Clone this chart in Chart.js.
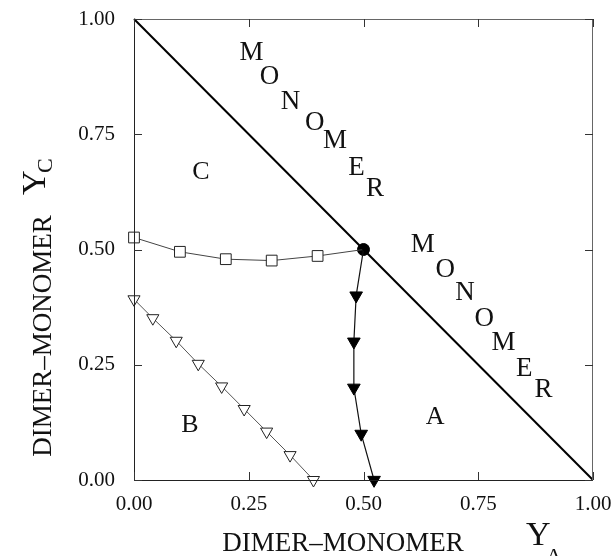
<!DOCTYPE html>
<html>
<head>
<meta charset="utf-8">
<script src="https://cdn.jsdelivr.net/npm/chart.js@4/dist/chart.umd.min.js"></script>
<style>
  html, body { margin: 0; padding: 0; background: #ffffff; }
  canvas { display: block; }
</style>
</head>
<body>
<canvas id="phase" width="613" height="556"></canvas>
<script>
// Axis tick labels (same for both composition axes)
const tickValues = [0, 0.25, 0.5, 0.75, 1];
const tickLabels = ['0.00', '0.25', '0.50', '0.75', '1.00'];

// Boundary Y_A + Y_C = 1 (pure monomer limit)
const limitX = [0, 1];
const limitY = [1, 0];

// Boundary between phase C and phase A/B region (open squares)
const boundaryCX = [0, 0.1, 0.2, 0.3, 0.4, 0.5];
const boundaryCY = [0.526, 0.495, 0.479, 0.476, 0.486, 0.5];

// Boundary of phase B (open triangles)
const boundaryBX = [0, 0.041, 0.092, 0.140, 0.191, 0.240, 0.289, 0.340, 0.391];
const boundaryBY = [0.392, 0.351, 0.302, 0.252, 0.203, 0.154, 0.105, 0.054, 0.0];

// Boundary of phase A (filled triangles), starting at the triple point
const boundaryAX = [0.5, 0.484, 0.479, 0.479, 0.495, 0.523];
const boundaryAY = [0.5, 0.400, 0.300, 0.200, 0.100, 0.0];

// Triple point
const tripleX = [0.5];
const tripleY = [0.5];

const pairs = (xs, ys) => xs.map((x, i) => ({ x: x, y: ys[i] }));

const SERIF = '"Liberation Serif", "DejaVu Serif", serif';

// Labels placed in data coordinates
const regionNames = [
  { text: 'C', x: 0.146, y: 0.668 },
  { text: 'B', x: 0.122, y: 0.119 },
  { text: 'A', x: 0.656, y: 0.137 }
];
const upperWord = [
  ['M', 0.256, 0.926], ['O', 0.295, 0.874], ['N', 0.341, 0.821], ['O', 0.394, 0.774],
  ['M', 0.438, 0.736], ['E', 0.485, 0.676], ['R', 0.525, 0.631]
];
const lowerWord = [
  ['M', 0.629, 0.510], ['O', 0.678, 0.456], ['N', 0.721, 0.405], ['O', 0.763, 0.349],
  ['M', 0.805, 0.297], ['E', 0.850, 0.240], ['R', 0.892, 0.195]
];

const figureText = {
  id: 'figureText',
  afterDatasetsDraw(chart) {
    const ctx = chart.ctx;
    const a = chart.chartArea;
    const xs = chart.scales.x, ys = chart.scales.y;
    ctx.save();

    // frame
    ctx.lineWidth = 1;
    ctx.strokeStyle = '#222';
    ctx.beginPath();
    ctx.moveTo(a.left + 0.5, a.top);
    ctx.lineTo(a.left + 0.5, a.bottom + 0.5);
    ctx.lineTo(a.right, a.bottom + 0.5);
    ctx.stroke();
    ctx.strokeStyle = '#666';
    ctx.beginPath();
    ctx.moveTo(a.left, a.top + 0.5);
    ctx.lineTo(a.right - 0.5, a.top + 0.5);
    ctx.lineTo(a.right - 0.5, a.bottom);
    ctx.stroke();

    // inward ticks on all four sides
    const len = 8;
    ctx.strokeStyle = '#333';
    ctx.beginPath();
    tickValues.forEach(v => {
      const px = Math.round(xs.getPixelForValue(v)) + 0.5;
      const py = Math.round(ys.getPixelForValue(v)) + 0.5;
      ctx.moveTo(px, a.bottom); ctx.lineTo(px, a.bottom - len);
      ctx.moveTo(px, a.top); ctx.lineTo(px, a.top + len);
      ctx.moveTo(a.left, py); ctx.lineTo(a.left + len, py);
      ctx.moveTo(a.right, py); ctx.lineTo(a.right - len, py);
    });
    ctx.stroke();

    // region names and diagonal words
    ctx.fillStyle = '#111';
    ctx.textAlign = 'center';
    ctx.textBaseline = 'middle';
    ctx.font = '26px ' + SERIF;
    regionNames.forEach(r => {
      ctx.fillText(r.text, xs.getPixelForValue(r.x), ys.getPixelForValue(r.y));
    });
    ctx.font = '27px ' + SERIF;
    upperWord.concat(lowerWord).forEach(([ch, x, y]) => {
      ctx.fillText(ch, xs.getPixelForValue(x), ys.getPixelForValue(y));
    });

    // x-axis title with Y_A
    ctx.textBaseline = 'alphabetic';
    ctx.font = '27px ' + SERIF;
    ctx.fillText('DIMER\u2013MONOMER', 343, 551);
    ctx.textAlign = 'left';
    ctx.font = '34px ' + SERIF;
    ctx.fillText('Y', 526, 545);
    ctx.font = '22px ' + SERIF;
    ctx.fillText('A', 546, 563);

    // y-axis title with Y_C (rotated)
    ctx.translate(51, 336);
    ctx.rotate(-Math.PI / 2);
    ctx.textAlign = 'center';
    ctx.font = '27px ' + SERIF;
    ctx.fillText('DIMER\u2013MONOMER', 0, 0);
    ctx.textAlign = 'left';
    ctx.font = '34px ' + SERIF;
    ctx.fillText('Y', 141, -6);
    ctx.font = '22px ' + SERIF;
    ctx.fillText('C', 163, 1);

    ctx.restore();
  }
};

new Chart(document.getElementById('phase'), {
  type: 'scatter',
  data: {
    datasets: [
      {
        label: 'Y_A + Y_C = 1',
        data: pairs(limitX, limitY),
        showLine: true,
        borderColor: '#000',
        borderWidth: 2,
        pointRadius: 0
      },
      {
        label: 'C boundary',
        data: pairs(boundaryCX, boundaryCY),
        showLine: true,
        borderColor: '#444',
        borderWidth: 1,
        pointStyle: 'rect',
        pointRadius: boundaryCX.map((x, i) => i === boundaryCX.length - 1 ? 0 : 7.6),
        pointBackgroundColor: '#fff',
        pointBorderColor: '#222',
        pointBorderWidth: 1
      },
      {
        label: 'B boundary',
        data: pairs(boundaryBX, boundaryBY),
        showLine: true,
        borderColor: '#555',
        borderWidth: 1,
        pointStyle: 'triangle',
        rotation: 180,
        pointRadius: 7,
        pointBackgroundColor: '#fff',
        pointBorderColor: '#222',
        pointBorderWidth: 1
      },
      {
        label: 'A boundary',
        data: pairs(boundaryAX, boundaryAY),
        showLine: true,
        borderColor: '#111',
        borderWidth: 1.2,
        pointStyle: 'triangle',
        rotation: 180,
        pointRadius: boundaryAX.map((x, i) => i === 0 ? 0 : 7.3),
        pointBackgroundColor: '#000',
        pointBorderColor: '#000',
        pointBorderWidth: 1
      },
      {
        label: 'triple point',
        data: pairs(tripleX, tripleY),
        pointStyle: 'circle',
        pointRadius: 6,
        pointBackgroundColor: '#000',
        pointBorderColor: '#000'
      }
    ]
  },
  options: {
    responsive: false,
    animation: false,
    clip: false,
    layout: { padding: { left: 0, right: 20, top: 19, bottom: 0 } },
    plugins: { legend: { display: false }, tooltip: { enabled: false } },
    scales: {
      x: {
        type: 'linear',
        min: 0, max: 1,
        afterFit(s) { s.height = 76; s.paddingLeft = 0; s.paddingRight = 0; },
        afterBuildTicks(s) { s.ticks = tickValues.map(v => ({ value: v })); },
        grid: { display: false },
        border: { display: false },
        ticks: {
          callback: (v, i) => tickLabels[i],
          font: { family: SERIF, size: 21 },
          color: '#111',
          padding: 4,
          maxRotation: 0,
          autoSkip: false
        }
      },
      y: {
        type: 'linear',
        min: 0, max: 1,
        afterFit(s) { s.width = 134; s.paddingTop = 0; s.paddingBottom = 0; },
        afterBuildTicks(s) { s.ticks = tickValues.map(v => ({ value: v })); },
        grid: { display: false },
        border: { display: false },
        ticks: {
          callback: (v, i) => tickLabels[i],
          font: { family: SERIF, size: 21 },
          color: '#111',
          padding: 11,
          autoSkip: false
        }
      }
    }
  },
  plugins: [figureText]
});
</script>
</body>
</html>
